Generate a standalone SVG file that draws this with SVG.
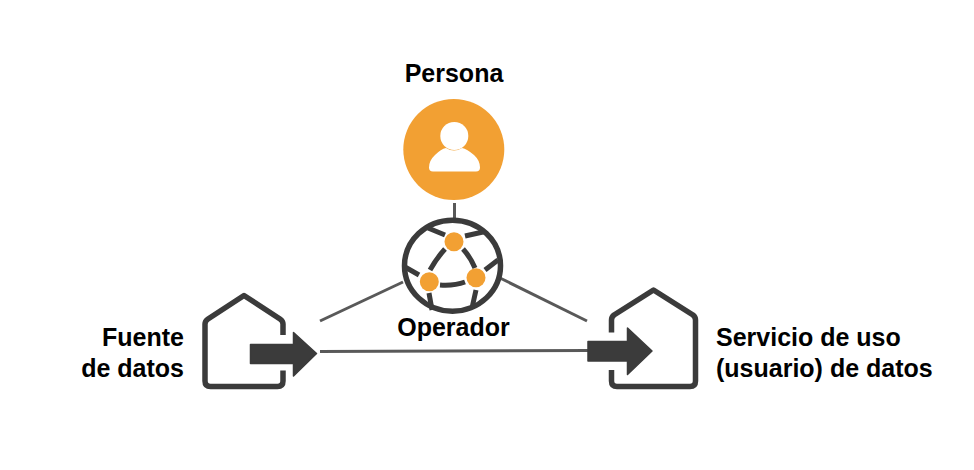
<svg xmlns="http://www.w3.org/2000/svg" width="974" height="470" viewBox="0 0 974 470">
<style>
text{font-family:"Liberation Sans",Arial,sans-serif;font-size:25px;font-weight:700;fill:#000}
.c{stroke:#595959;stroke-width:3;fill:none}
.h{stroke:#3b3b3b;stroke-width:5.500;fill:none;stroke-linejoin:round;stroke-linecap:butt}
.a{fill:#3b3b3b;stroke:#3b3b3b;stroke-width:1.500;stroke-linejoin:round}
.g{stroke:#3b3b3b;stroke-width:5;fill:none}
.o{fill:#f2a033}
</style>
<rect width="974" height="470" fill="#fff"/>
<g id="connectors">
<line class="c" x1="454.500" y1="203" x2="454.500" y2="219"/>
<line class="c" x1="403" y1="282" x2="320" y2="321"/>
<line class="c" x1="500" y1="278" x2="587" y2="321"/>
<line class="c" x1="320" y1="351.500" x2="588" y2="350.500"/>
</g>
<g id="persona">
<circle class="o" cx="453.800" cy="149.500" r="50.500"/>
<circle cx="454.300" cy="136" r="14" fill="#fff"/>
<path d="M433 171.500q-4 0-4-4q0-7 6-12.500q6-6 11-7q8 5 16 0q5 1 12 7q6 5.500 6 12.500q0 4-4 4z" fill="#fff"/>
<text x="454" y="81.500" text-anchor="middle">Persona</text>
</g>
<g id="operador">
<ellipse class="g" cx="452.500" cy="265.700" rx="48" ry="45.500" style="stroke-width:5.500"/>
<path class="g" d="M428 228L445 235M465 236L483 232M445 249Q436 259 430 270M463 249Q471 258 475 268M440 285Q454 286 465 282M405 267L419 275M485 270L498 260M429 293L432 310M476 290L472 308"/>
<circle class="o" cx="454" cy="241.700" r="9.500"/>
<circle class="o" cx="429.300" cy="281.700" r="9.500"/>
<circle class="o" cx="476" cy="277.700" r="9.500"/>
<text x="453.500" y="336" text-anchor="middle">Operador</text>
</g>
<g id="fuente">
<path class="h" d="M283 335V324Q283 321 280 319L244 295.500L208 319Q205 321 205 324V381Q205 386.500 210.500 386.500H277.500Q283 386.500 283 381V370.500"/>
<path class="a" d="M250.500 344.500H293.500V332.500L316.500 353.500L293.500 376V363.500H250.500z"/>
<text x="184" y="346" text-anchor="end">Fuente</text>
<text x="184" y="377" text-anchor="end">de datos</text>
</g>
<g id="servicio">
<path class="h" d="M611.500 332.500V320Q611.500 317 614 315L653.500 290L693 315Q695.500 317 695.500 320V381Q695.500 386.500 690 386.500H617Q611.500 386.500 611.500 381V370"/>
<path class="a" d="M588 341.500H627.500V328L652 351L627.500 374.500V361H588z"/>
<text x="716" y="346">Servicio de uso</text>
<text x="716" y="377">(usuario) de datos</text>
</g>
</svg>
